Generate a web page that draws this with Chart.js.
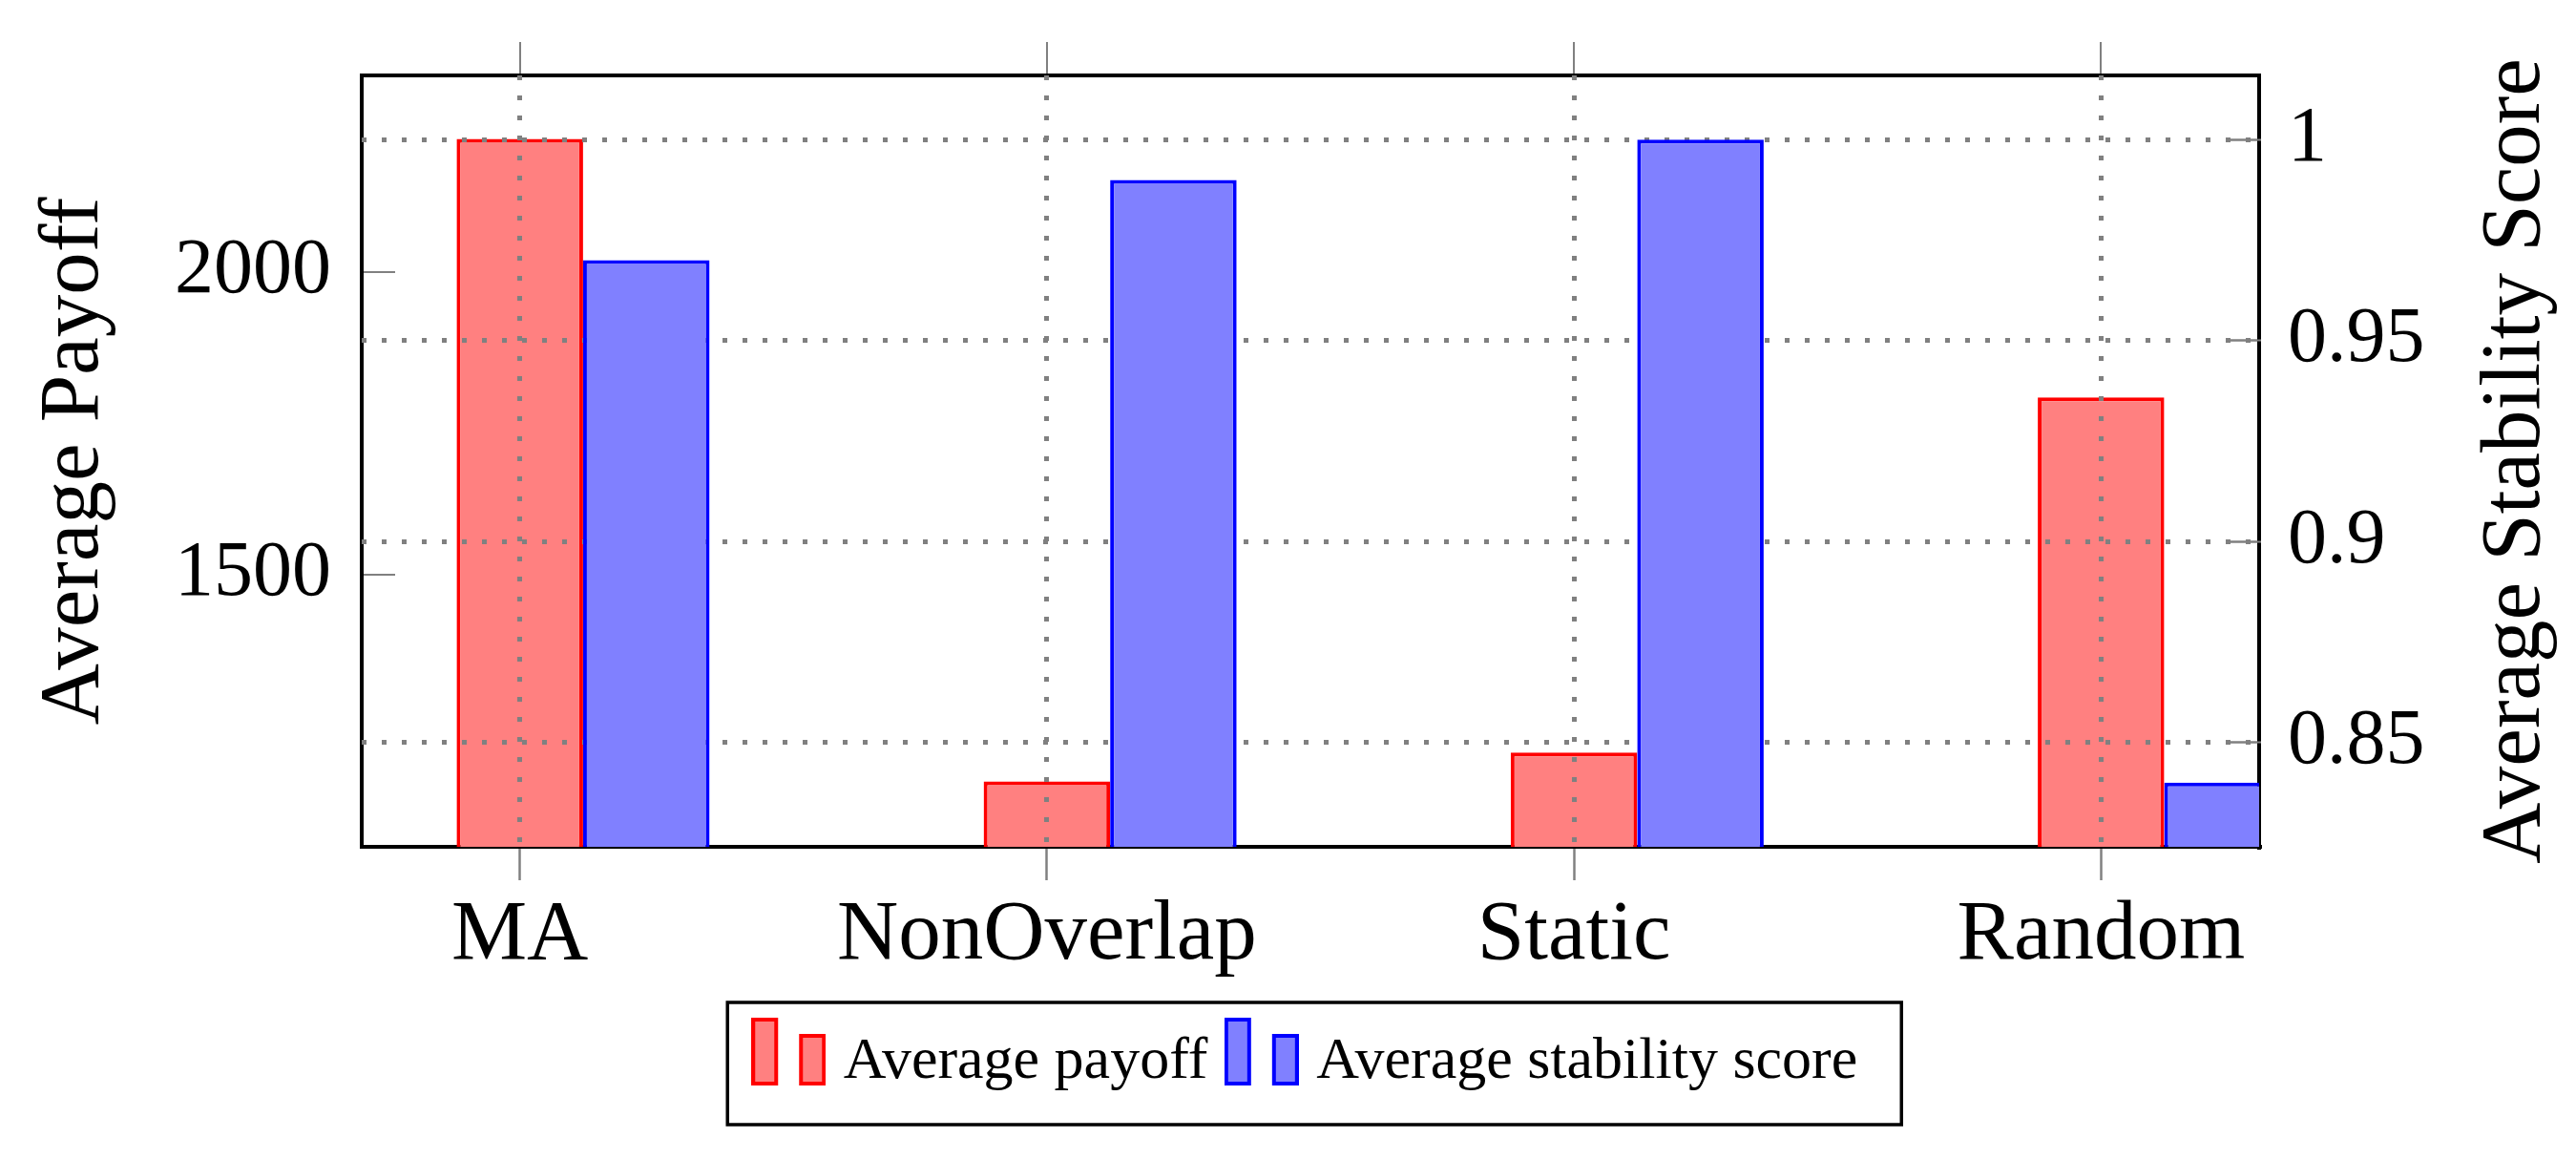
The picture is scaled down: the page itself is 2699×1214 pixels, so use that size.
<!DOCTYPE html>
<html lang="en">
<head>
    <meta charset="UTF-8">
    <title>Average payoff and stability score</title>
    <script src="https://cdn.jsdelivr.net/npm/chart.js"></script>
    <style>
        html, body { margin: 0; padding: 0; background: #fff; }
        .grafico { width: 2699px; height: 1214px; }
    </style>
</head>
<body>
    <div class="grafico">
        <canvas id="graficoBarra"></canvas>
    </div>

<script>
    var categories = ['MA', 'NonOverlap', 'Static', 'Random']
    var avgPayoff = [2220, 1158, 1206, 1793]
    var avgStability = [0.97, 0.99, 1.0, 0.84]
    var payoffTicks = [1500, 2000]
    var stabilityTicks = [0.85, 0.9, 0.95, 1]

    // bar width as a fraction of the category spacing; blue sits one bar to the right
    var barFrac = 0.24
    var gray = '#808080'
    var dots = [5, 16]

    Chart.defaults.font.family = "'Liberation Serif', 'DejaVu Serif', serif"
    Chart.defaults.color = '#000'

    // the little two-bar legend picture pgfplots draws for ybar
    function legendIcon(fill, stroke) {
        var c = document.createElement('canvas')
        c.width = 78
        c.height = 94
        var g = c.getContext('2d')
        g.fillStyle = fill
        g.strokeStyle = stroke
        g.lineWidth = 4
        ;[[0, 0], [50, 17]].forEach(function (b) {
            g.fillRect(b[0], b[1], 28, 71 - b[1])
            g.strokeRect(b[0] + 2, b[1] + 2, 24, 67 - b[1])
        })
        return c
    }

    function catTicks(scale) {
        scale.ticks = categories.map(function (c, i) { return { value: i } })
    }

    // fixed box sizes, and no extra layout padding from tick labels
    function fixSize(w, h) {
        return function (s) {
            if (w !== null) s.width = w
            if (h !== null) s.height = h
            s.paddingTop = 0
            s.paddingBottom = 0
            s.paddingLeft = 0
            s.paddingRight = 0
        }
    }

    var extras = {
        id: 'extras',
        afterDatasetDraw: function (chart, args) {
            // grid sits on top of the red bars but under the blue ones
            if (args.index === 0) {
                chart.scales.x.drawGrid(chart.chartArea)
                chart.scales.y2.drawGrid(chart.chartArea)
            }
        },
        afterDraw: function (chart) {
            var ctx = chart.ctx
            var area = chart.chartArea

            // right axis title, reading bottom to top like the left one
            ctx.save()
            ctx.translate(chart.scales.y2.left + 270, (area.top + area.bottom) / 2)
            ctx.rotate(-Math.PI / 2)
            ctx.font = "89px 'Liberation Serif', 'DejaVu Serif', serif"
            ctx.fillStyle = '#000'
            ctx.textAlign = 'center'
            ctx.textBaseline = 'middle'
            ctx.fillText('Average Stability Score', 0, 0)
            ctx.restore()

            // frame round the legend
            var hb = chart.legend.legendHitBoxes
            if (hb && hb.length) {
                var last = hb[hb.length - 1]
                var left = hb[0].left - 37.5
                var right = last.left + last.width + 46
                var top = hb[0].top - 32
                ctx.save()
                ctx.strokeStyle = '#000'
                ctx.lineWidth = 3.5
                ctx.strokeRect(left, top, right - left, 128)
                ctx.restore()
            }
        }
    }

    var graficoBarra = new Chart(document.getElementById('graficoBarra').getContext('2d'), {
        type: 'bar',
        data: {
            datasets: [{
                label: 'Average payoff',
                data: categories.map(function (c, i) { return { x: i, y: avgPayoff[i] } }),
                backgroundColor: '#ff8080',
                borderColor: '#ff0000',
                borderWidth: 4,
                borderSkipped: false,
                grouped: false,
                barPercentage: barFrac,
                categoryPercentage: 1,
                xAxisID: 'x',
                yAxisID: 'y',
                order: 2
            },
            {
                label: 'Average stability score',
                data: categories.map(function (c, i) { return { x: i, y: avgStability[i] } }),
                backgroundColor: '#8080ff',
                borderColor: '#0000ff',
                borderWidth: 4,
                borderSkipped: false,
                grouped: false,
                barPercentage: barFrac,
                categoryPercentage: 1,
                xAxisID: 'x2',
                yAxisID: 'y2',
                clip: 0,
                order: 1
            }]
        },
        options: {
            responsive: true,
            maintainAspectRatio: false,
            animation: false,
            devicePixelRatio: 1,
            events: [],
            layout: {
                padding: { left: 0, right: 0, top: 0, bottom: 60 }
            },
            plugins: {
                tooltip: { enabled: false },
                legend: {
                    position: 'bottom',
                    fullSize: false,
                    labels: {
                        font: { size: 62 },
                        color: '#000',
                        usePointStyle: true,
                        pointStyleWidth: 53,
                        padding: 30,
                        generateLabels: function (chart) {
                            return chart.data.datasets.map(function (ds, i) {
                                return {
                                    text: ds.label,
                                    fillStyle: ds.backgroundColor,
                                    strokeStyle: ds.borderColor,
                                    lineWidth: 0,
                                    pointStyle: legendIcon(ds.backgroundColor, ds.borderColor),
                                    hidden: false,
                                    fontColor: '#000',
                                    datasetIndex: i
                                }
                            })
                        }
                    }
                }
            },
            scales: {
                x: {
                    type: 'linear',
                    position: 'bottom',
                    min: -0.3,
                    max: 3.3,
                    offset: false,
                    afterBuildTicks: catTicks,
                    ticks: {
                        callback: function (v) { return categories[v] },
                        font: { size: 89 },
                        padding: 5,
                        maxRotation: 0,
                        autoSkip: false
                    },
                    grid: {
                        offset: false,
                        color: gray,
                        lineWidth: 5,
                        tickLength: 35,
                        tickWidth: 2,
                        tickColor: gray
                    },
                    border: { color: '#000', width: 4, dash: dots },
                    afterFit: fixSize(null, 165)
                },
                xTop: {
                    type: 'linear',
                    position: 'top',
                    min: -0.3,
                    max: 3.3,
                    offset: false,
                    afterBuildTicks: catTicks,
                    ticks: { display: false },
                    grid: {
                        offset: false,
                        drawOnChartArea: false,
                        color: gray,
                        lineWidth: 2,
                        tickLength: 35,
                        tickWidth: 2,
                        tickColor: gray
                    },
                    border: { color: '#000', width: 4 },
                    afterFit: fixSize(null, 79)
                },
                x2: {
                    type: 'linear',
                    display: false,
                    min: -0.3 - barFrac,
                    max: 3.3 - barFrac,
                    offset: false,
                    afterBuildTicks: catTicks,
                    grid: { offset: false }
                },
                y: {
                    type: 'linear',
                    position: 'left',
                    min: 1050,
                    max: 2325,
                    beginAtZero: false,
                    afterBuildTicks: function (s) {
                        s.ticks = payoffTicks.map(function (v) { return { value: v } })
                    },
                    ticks: {
                        callback: function (v) { return String(v) },
                        font: { size: 82 },
                        padding: 67
                    },
                    grid: {
                        drawOnChartArea: false,
                        color: gray,
                        lineWidth: 2,
                        tickLength: -35,
                        tickWidth: 2,
                        tickColor: gray
                    },
                    border: { color: '#000', width: 4 },
                    title: {
                        display: true,
                        text: 'Average Payoff',
                        font: { size: 89 },
                        padding: { top: 25, bottom: 0 }
                    },
                    afterFit: fixSize(379, null)
                },
                y2: {
                    type: 'linear',
                    position: 'right',
                    min: 0.824,
                    max: 1.016,
                    beginAtZero: false,
                    afterBuildTicks: function (s) {
                        s.ticks = stabilityTicks.map(function (v) { return { value: v } })
                    },
                    ticks: {
                        callback: function (v) { return String(v) },
                        font: { size: 82 },
                        padding: 65
                    },
                    grid: {
                        color: gray,
                        lineWidth: 5,
                        tickLength: -35,
                        tickWidth: 2,
                        tickColor: gray
                    },
                    border: { color: '#000', width: 4, dash: dots },
                    afterFit: fixSize(332, null)
                }
            }
        },
        plugins: [extras]
    });
</script>
</body>
</html>
